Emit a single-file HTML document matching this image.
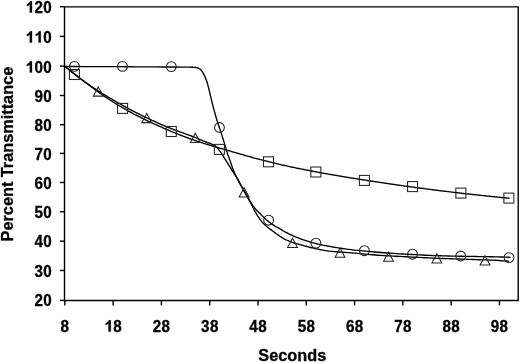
<!DOCTYPE html>
<html><head><meta charset="utf-8"><style>
html,body{margin:0;padding:0;background:#fff;}
svg{display:block;will-change:transform;}
text{font-family:"Liberation Sans",sans-serif;font-weight:bold;font-size:16px;fill:#000;stroke:#000;stroke-width:0.3px;}
path.one{stroke:#000;stroke-width:0.3px;vector-effect:non-scaling-stroke;}
text.t{font-size:16.3px;}
</style></head><body>
<svg width="520" height="363" viewBox="0 0 520 363">
<rect width="520" height="363" fill="#fff"/>
<path d="M64.5,6.9 H518.2 V300.5 H64.5 Z" fill="none" stroke="#000" stroke-width="1.4"/>
<line x1="59.9" y1="6.7" x2="64.5" y2="6.7" stroke="#000" stroke-width="1.4"/>
<path class="one" transform="translate(25.50,12.57) scale(0.007812,-0.007969)" d="M830,0 L549,0 L549,1018 Q395,879 186,813 L186,1058 Q296,1093 425,1189 Q554,1286 602,1409 L830,1409 Z"/><text text-anchor="middle" transform="translate(38.75,12.57) scale(0.95,1.02)">2</text><text text-anchor="middle" transform="translate(47.55,12.57) scale(0.95,1.02)">0</text>
<line x1="59.9" y1="36.4" x2="64.5" y2="36.4" stroke="#000" stroke-width="1.4"/>
<path class="one" transform="translate(25.50,42.60) scale(0.007812,-0.007969)" d="M830,0 L549,0 L549,1018 Q395,879 186,813 L186,1058 Q296,1093 425,1189 Q554,1286 602,1409 L830,1409 Z"/><path class="one" transform="translate(34.30,42.60) scale(0.007812,-0.007969)" d="M830,0 L549,0 L549,1018 Q395,879 186,813 L186,1058 Q296,1093 425,1189 Q554,1286 602,1409 L830,1409 Z"/><text text-anchor="middle" transform="translate(47.55,42.60) scale(0.95,1.02)">0</text>
<line x1="59.9" y1="66.1" x2="64.5" y2="66.1" stroke="#000" stroke-width="1.4"/>
<path class="one" transform="translate(25.50,72.60) scale(0.007812,-0.007969)" d="M830,0 L549,0 L549,1018 Q395,879 186,813 L186,1058 Q296,1093 425,1189 Q554,1286 602,1409 L830,1409 Z"/><text text-anchor="middle" transform="translate(38.75,72.60) scale(0.95,1.02)">0</text><text text-anchor="middle" transform="translate(47.55,72.60) scale(0.95,1.02)">0</text>
<line x1="59.9" y1="95.5" x2="64.5" y2="95.5" stroke="#000" stroke-width="1.4"/>
<text text-anchor="middle" transform="translate(38.75,101.55) scale(0.95,1.02)">9</text><text text-anchor="middle" transform="translate(47.55,101.55) scale(0.95,1.02)">0</text>
<line x1="59.9" y1="124.7" x2="64.5" y2="124.7" stroke="#000" stroke-width="1.4"/>
<text text-anchor="middle" transform="translate(38.75,130.60) scale(0.95,1.02)">8</text><text text-anchor="middle" transform="translate(47.55,130.60) scale(0.95,1.02)">0</text>
<line x1="59.9" y1="153.4" x2="64.5" y2="153.4" stroke="#000" stroke-width="1.4"/>
<text text-anchor="middle" transform="translate(38.75,159.55) scale(0.95,1.02)">7</text><text text-anchor="middle" transform="translate(47.55,159.55) scale(0.95,1.02)">0</text>
<line x1="59.9" y1="182.5" x2="64.5" y2="182.5" stroke="#000" stroke-width="1.4"/>
<text text-anchor="middle" transform="translate(38.75,188.60) scale(0.95,1.02)">6</text><text text-anchor="middle" transform="translate(47.55,188.60) scale(0.95,1.02)">0</text>
<line x1="59.9" y1="211.7" x2="64.5" y2="211.7" stroke="#000" stroke-width="1.4"/>
<text text-anchor="middle" transform="translate(38.75,218.00) scale(0.95,1.02)">5</text><text text-anchor="middle" transform="translate(47.55,218.00) scale(0.95,1.02)">0</text>
<line x1="59.9" y1="241.2" x2="64.5" y2="241.2" stroke="#000" stroke-width="1.4"/>
<text text-anchor="middle" transform="translate(38.75,247.00) scale(0.95,1.02)">4</text><text text-anchor="middle" transform="translate(47.55,247.00) scale(0.95,1.02)">0</text>
<line x1="59.9" y1="270.5" x2="64.5" y2="270.5" stroke="#000" stroke-width="1.4"/>
<text text-anchor="middle" transform="translate(38.75,276.50) scale(0.95,1.02)">3</text><text text-anchor="middle" transform="translate(47.55,276.50) scale(0.95,1.02)">0</text>
<line x1="59.9" y1="300.4" x2="64.5" y2="300.4" stroke="#000" stroke-width="1.4"/>
<text text-anchor="middle" transform="translate(38.75,306.05) scale(0.95,1.02)">2</text><text text-anchor="middle" transform="translate(47.55,306.05) scale(0.95,1.02)">0</text>
<line x1="64.84" y1="300.5" x2="64.84" y2="305.4" stroke="#000" stroke-width="1.4"/>
<text text-anchor="middle" transform="translate(64.84,331.60) scale(0.95,1.02)">8</text>
<line x1="113.13" y1="300.5" x2="113.13" y2="305.4" stroke="#000" stroke-width="1.4"/>
<path class="one" transform="translate(104.28,331.60) scale(0.007812,-0.007969)" d="M830,0 L549,0 L549,1018 Q395,879 186,813 L186,1058 Q296,1093 425,1189 Q554,1286 602,1409 L830,1409 Z"/><text text-anchor="middle" transform="translate(117.53,331.60) scale(0.95,1.02)">8</text>
<line x1="161.42" y1="300.5" x2="161.42" y2="305.4" stroke="#000" stroke-width="1.4"/>
<text text-anchor="middle" transform="translate(157.02,331.60) scale(0.95,1.02)">2</text><text text-anchor="middle" transform="translate(165.82,331.60) scale(0.95,1.02)">8</text>
<line x1="209.70" y1="300.5" x2="209.70" y2="305.4" stroke="#000" stroke-width="1.4"/>
<text text-anchor="middle" transform="translate(205.30,331.60) scale(0.95,1.02)">3</text><text text-anchor="middle" transform="translate(214.10,331.60) scale(0.95,1.02)">8</text>
<line x1="257.99" y1="300.5" x2="257.99" y2="305.4" stroke="#000" stroke-width="1.4"/>
<text text-anchor="middle" transform="translate(253.59,331.60) scale(0.95,1.02)">4</text><text text-anchor="middle" transform="translate(262.39,331.60) scale(0.95,1.02)">8</text>
<line x1="306.28" y1="300.5" x2="306.28" y2="305.4" stroke="#000" stroke-width="1.4"/>
<text text-anchor="middle" transform="translate(301.88,331.60) scale(0.95,1.02)">5</text><text text-anchor="middle" transform="translate(310.68,331.60) scale(0.95,1.02)">8</text>
<line x1="354.57" y1="300.5" x2="354.57" y2="305.4" stroke="#000" stroke-width="1.4"/>
<text text-anchor="middle" transform="translate(350.17,331.60) scale(0.95,1.02)">6</text><text text-anchor="middle" transform="translate(358.97,331.60) scale(0.95,1.02)">8</text>
<line x1="402.86" y1="300.5" x2="402.86" y2="305.4" stroke="#000" stroke-width="1.4"/>
<text text-anchor="middle" transform="translate(398.46,331.60) scale(0.95,1.02)">7</text><text text-anchor="middle" transform="translate(407.26,331.60) scale(0.95,1.02)">8</text>
<line x1="451.14" y1="300.5" x2="451.14" y2="305.4" stroke="#000" stroke-width="1.4"/>
<text text-anchor="middle" transform="translate(446.74,331.60) scale(0.95,1.02)">8</text><text text-anchor="middle" transform="translate(455.54,331.60) scale(0.95,1.02)">8</text>
<line x1="499.43" y1="300.5" x2="499.43" y2="305.4" stroke="#000" stroke-width="1.4"/>
<text text-anchor="middle" transform="translate(495.03,331.60) scale(0.95,1.02)">9</text><text text-anchor="middle" transform="translate(503.83,331.60) scale(0.95,1.02)">8</text>
<text class="t" x="292.3" y="360.5" text-anchor="middle">Seconds</text>
<text class="t" transform="translate(13.4,154.1) rotate(-90)" text-anchor="middle">Percent Transmittance</text>
<path d="M64.50,66.17 L65.50,66.95 L66.50,67.74 L67.50,68.53 L68.50,69.31 L69.50,70.10 L70.50,70.89 L71.50,71.67 L72.50,72.46 L73.50,73.24 L74.50,74.03 L75.50,74.81 L76.50,75.59 L77.50,76.37 L78.50,77.15 L79.50,77.92 L80.50,78.70 L81.50,79.47 L82.50,80.24 L83.50,81.01 L84.50,81.78 L85.50,82.54 L86.50,83.30 L87.50,84.06 L88.50,84.81 L89.50,85.56 L90.50,86.31 L91.50,87.05 L92.50,87.79 L93.50,88.53 L94.50,89.26 L95.50,89.99 L96.50,90.72 L97.50,91.44 L98.50,92.16 L99.50,92.87 L100.50,93.57 L101.50,94.28 L102.50,94.97 L103.50,95.66 L104.50,96.35 L105.50,97.03 L106.50,97.71 L107.50,98.38 L108.50,99.04 L109.50,99.70 L110.50,100.35 L111.50,100.99 L112.50,101.63 L113.50,102.26 L114.50,102.89 L115.50,103.51 L116.50,104.13 L117.50,104.74 L118.50,105.34 L119.50,105.94 L120.50,106.53 L121.50,107.12 L122.50,107.70 L123.50,108.28 L124.50,108.85 L125.50,109.41 L126.50,109.98 L127.50,110.53 L128.50,111.09 L129.50,111.63 L130.50,112.18 L131.50,112.71 L132.50,113.25 L133.50,113.78 L134.50,114.30 L135.50,114.82 L136.50,115.34 L137.50,115.85 L138.50,116.36 L139.50,116.87 L140.50,117.37 L141.50,117.87 L142.50,118.36 L143.50,118.85 L144.50,119.34 L145.50,119.82 L146.50,120.30 L147.50,120.78 L148.50,121.26 L149.50,121.73 L150.50,122.20 L151.50,122.66 L152.50,123.13 L153.50,123.59 L154.50,124.05 L155.50,124.50 L156.50,124.96 L157.50,125.41 L158.50,125.86 L159.50,126.30 L160.50,126.75 L161.50,127.19 L162.50,127.63 L163.50,128.07 L164.50,128.51 L165.50,128.94 L166.50,129.37 L167.50,129.80 L168.50,130.23 L169.50,130.66 L170.50,131.08 L171.50,131.50 L172.50,131.92 L173.50,132.33 L174.50,132.74 L175.50,133.15 L176.50,133.56 L177.50,133.96 L178.50,134.36 L179.50,134.76 L180.50,135.15 L181.50,135.55 L182.50,135.93 L183.50,136.32 L184.50,136.70 L185.50,137.08 L186.50,137.45 L187.50,137.82 L188.50,138.19 L189.50,138.56 L190.50,138.92 L191.50,139.27 L192.50,139.63 L193.50,139.98 L194.50,140.32 L195.50,140.66 L196.50,141.00 L197.50,141.33 L198.50,141.66 L199.50,141.99 L200.50,142.31 L201.50,142.63 L202.50,142.95 L203.50,143.27 L204.50,143.58 L205.50,143.89 L206.50,144.19 L207.50,144.50 L208.50,144.80 L209.50,145.10 L210.50,145.40 L211.50,145.70 L212.50,145.99 L213.50,146.29 L214.50,146.58 L215.50,146.87 L216.50,147.16 L217.50,147.45 L218.50,147.74 L219.50,148.03 L220.50,148.32 L221.50,148.61 L222.50,148.89 L223.50,149.18 L224.50,149.47 L225.50,149.76 L226.50,150.05 L227.50,150.34 L228.50,150.63 L229.50,150.92 L230.50,151.21 L231.50,151.50 L232.50,151.79 L233.50,152.08 L234.50,152.37 L235.50,152.66 L236.50,152.95 L237.50,153.24 L238.50,153.53 L239.50,153.82 L240.50,154.11 L241.50,154.40 L242.50,154.68 L243.50,154.97 L244.50,155.26 L245.50,155.54 L246.50,155.82 L247.50,156.11 L248.50,156.39 L249.50,156.67 L250.50,156.95 L251.50,157.23 L252.50,157.50 L253.50,157.78 L254.50,158.05 L255.50,158.33 L256.50,158.60 L257.50,158.87 L258.50,159.14 L259.50,159.40 L260.50,159.67 L261.50,159.93 L262.50,160.19 L263.50,160.45 L264.50,160.70 L265.50,160.96 L266.50,161.21 L267.50,161.46 L268.50,161.71 L269.50,161.96 L270.50,162.21 L271.50,162.45 L272.50,162.70 L273.50,162.94 L274.50,163.18 L275.50,163.41 L276.50,163.65 L277.50,163.89 L278.50,164.12 L279.50,164.35 L280.50,164.58 L281.50,164.81 L282.50,165.04 L283.50,165.26 L284.50,165.49 L285.50,165.71 L286.50,165.93 L287.50,166.15 L288.50,166.37 L289.50,166.58 L290.50,166.80 L291.50,167.01 L292.50,167.23 L293.50,167.44 L294.50,167.65 L295.50,167.86 L296.50,168.06 L297.50,168.27 L298.50,168.48 L299.50,168.68 L300.50,168.88 L301.50,169.08 L302.50,169.28 L303.50,169.48 L304.50,169.68 L305.50,169.88 L306.50,170.07 L307.50,170.27 L308.50,170.46 L309.50,170.65 L310.50,170.84 L311.50,171.03 L312.50,171.22 L313.50,171.41 L314.50,171.60 L315.50,171.78 L316.50,171.97 L317.50,172.15 L318.50,172.34 L319.50,172.52 L320.50,172.70 L321.50,172.88 L322.50,173.06 L323.50,173.24 L324.50,173.42 L325.50,173.59 L326.50,173.77 L327.50,173.95 L328.50,174.12 L329.50,174.30 L330.50,174.47 L331.50,174.64 L332.50,174.81 L333.50,174.98 L334.50,175.16 L335.50,175.33 L336.50,175.49 L337.50,175.66 L338.50,175.83 L339.50,176.00 L340.50,176.17 L341.50,176.33 L342.50,176.50 L343.50,176.66 L344.50,176.83 L345.50,176.99 L346.50,177.16 L347.50,177.32 L348.50,177.48 L349.50,177.65 L350.50,177.81 L351.50,177.97 L352.50,178.13 L353.50,178.29 L354.50,178.45 L355.50,178.61 L356.50,178.77 L357.50,178.93 L358.50,179.09 L359.50,179.25 L360.50,179.41 L361.50,179.56 L362.50,179.72 L363.50,179.88 L364.50,180.04 L365.50,180.19 L366.50,180.35 L367.50,180.50 L368.50,180.66 L369.50,180.81 L370.50,180.97 L371.50,181.12 L372.50,181.27 L373.50,181.43 L374.50,181.58 L375.50,181.73 L376.50,181.88 L377.50,182.03 L378.50,182.18 L379.50,182.33 L380.50,182.48 L381.50,182.63 L382.50,182.78 L383.50,182.93 L384.50,183.08 L385.50,183.23 L386.50,183.37 L387.50,183.52 L388.50,183.67 L389.50,183.81 L390.50,183.96 L391.50,184.11 L392.50,184.25 L393.50,184.40 L394.50,184.54 L395.50,184.68 L396.50,184.83 L397.50,184.97 L398.50,185.11 L399.50,185.25 L400.50,185.40 L401.50,185.54 L402.50,185.68 L403.50,185.82 L404.50,185.96 L405.50,186.10 L406.50,186.24 L407.50,186.38 L408.50,186.51 L409.50,186.65 L410.50,186.79 L411.50,186.93 L412.50,187.06 L413.50,187.20 L414.50,187.34 L415.50,187.47 L416.50,187.61 L417.50,187.74 L418.50,187.87 L419.50,188.01 L420.50,188.14 L421.50,188.27 L422.50,188.41 L423.50,188.54 L424.50,188.67 L425.50,188.80 L426.50,188.93 L427.50,189.06 L428.50,189.19 L429.50,189.32 L430.50,189.45 L431.50,189.58 L432.50,189.71 L433.50,189.83 L434.50,189.96 L435.50,190.09 L436.50,190.21 L437.50,190.34 L438.50,190.47 L439.50,190.59 L440.50,190.72 L441.50,190.84 L442.50,190.96 L443.50,191.09 L444.50,191.21 L445.50,191.33 L446.50,191.45 L447.50,191.58 L448.50,191.70 L449.50,191.82 L450.50,191.94 L451.50,192.06 L452.50,192.18 L453.50,192.30 L454.50,192.41 L455.50,192.53 L456.50,192.65 L457.50,192.77 L458.50,192.88 L459.50,193.00 L460.50,193.12 L461.50,193.23 L462.50,193.35 L463.50,193.46 L464.50,193.57 L465.50,193.69 L466.50,193.80 L467.50,193.91 L468.50,194.03 L469.50,194.14 L470.50,194.25 L471.50,194.36 L472.50,194.47 L473.50,194.58 L474.50,194.69 L475.50,194.80 L476.50,194.91 L477.50,195.02 L478.50,195.12 L479.50,195.23 L480.50,195.34 L481.50,195.44 L482.50,195.55 L483.50,195.66 L484.50,195.76 L485.50,195.87 L486.50,195.97 L487.50,196.07 L488.50,196.18 L489.50,196.28 L490.50,196.38 L491.50,196.48 L492.50,196.59 L493.50,196.69 L494.50,196.79 L495.50,196.89 L496.50,196.99 L497.50,197.09 L498.50,197.18 L499.50,197.28 L500.50,197.38 L501.50,197.48 L502.50,197.58 L503.50,197.67 L504.50,197.77 L505.50,197.86 L506.50,197.96 L507.50,198.05 L508.50,198.15 L509.50,198.24" fill="none" stroke="#000" stroke-width="1.35" stroke-linejoin="round"/>
<path d="M64.50,65.88 L65.58,66.79 L66.66,67.69 L67.75,68.60 L68.83,69.51 L69.91,70.40 L71.00,71.29 L72.08,72.16 L73.16,73.02 L74.24,73.87 L75.33,74.72 L76.41,75.56 L77.50,76.39 L78.58,77.21 L79.66,78.02 L80.74,78.83 L81.83,79.62 L82.91,80.42 L84.00,81.21 L85.08,81.98 L86.16,82.75 L87.24,83.51 L88.33,84.27 L89.41,85.02 L90.50,85.76 L91.58,86.50 L92.66,87.23 L93.74,87.95 L94.83,88.67 L95.91,89.38 L97.00,90.09 L98.08,90.79 L99.16,91.48 L100.24,92.17 L101.33,92.86 L102.41,93.54 L103.50,94.21 L104.58,94.88 L105.66,95.54 L106.75,96.20 L107.83,96.86 L108.91,97.51 L110.00,98.15 L111.08,98.79 L112.16,99.43 L113.25,100.06 L114.33,100.69 L115.41,101.32 L116.50,101.94 L117.58,102.56 L118.66,103.17 L119.75,103.78 L120.83,104.39 L121.91,104.99 L123.00,105.60 L124.08,106.19 L125.16,106.79 L126.25,107.38 L127.33,107.97 L128.41,108.55 L129.50,109.13 L130.58,109.71 L131.66,110.28 L132.75,110.86 L133.83,111.42 L134.91,111.99 L136.00,112.55 L137.08,113.10 L138.16,113.65 L139.25,114.20 L140.33,114.75 L141.41,115.29 L142.50,115.83 L143.58,116.36 L144.66,116.89 L145.75,117.42 L146.83,117.94 L147.91,118.46 L149.00,118.97 L150.08,119.48 L151.16,119.98 L152.25,120.49 L153.33,120.98 L154.41,121.48 L155.50,121.97 L156.58,122.45 L157.66,122.93 L158.75,123.41 L159.83,123.88 L160.91,124.35 L162.00,124.81 L163.08,125.27 L164.16,125.72 L165.25,126.17 L166.33,126.62 L167.41,127.06 L168.50,127.50 L169.58,127.93 L170.66,128.35 L171.75,128.78 L172.83,129.19 L173.92,129.61 L175.00,130.02 L176.08,130.43 L177.17,130.84 L178.25,131.24 L179.33,131.64 L180.42,132.04 L181.50,132.43 L182.58,132.83 L183.67,133.23 L184.75,133.62 L185.83,134.01 L186.92,134.41 L188.00,134.80 L189.09,135.20 L190.19,135.60 L191.29,136.00 L192.38,136.40 L193.45,136.80 L194.50,137.20 L195.44,137.58 L196.36,137.96 L197.26,138.34 L198.16,138.73 L199.07,139.11 L200.00,139.50 L201.00,139.91 L202.01,140.33 L203.03,140.76 L204.06,141.18 L205.08,141.59 L206.10,142.00 L207.13,142.40 L208.20,142.80 L209.27,143.20 L210.30,143.58 L211.25,143.95 L212.10,144.30 L212.58,144.50 L213.02,144.68 L213.42,144.85 L213.81,145.04 L214.20,145.25 L214.60,145.50 L215.11,145.88 L215.62,146.31 L216.13,146.79 L216.64,147.29 L217.13,147.80 L217.60,148.30 L218.04,148.79 L218.47,149.30 L218.89,149.81 L219.30,150.33 L219.70,150.86 L220.10,151.40 L220.51,151.96 L220.92,152.53 L221.32,153.12 L221.71,153.70 L222.11,154.30 L222.50,154.90 L222.91,155.53 L223.31,156.18 L223.71,156.83 L224.10,157.49 L224.50,158.15 L224.90,158.80 L225.30,159.45 L225.70,160.11 L226.11,160.76 L226.51,161.42 L226.91,162.06 L227.30,162.70 L227.67,163.29 L228.03,163.87 L228.39,164.45 L228.76,165.02 L229.12,165.60 L229.50,166.20 L229.92,166.86 L230.34,167.54 L230.78,168.22 L231.21,168.91 L231.65,169.60 L232.10,170.30 L232.57,171.03 L233.06,171.77 L233.54,172.51 L234.03,173.26 L234.52,174.02 L235.00,174.80 L235.50,175.63 L236.00,176.48 L236.50,177.34 L236.99,178.21 L237.49,179.10 L238.00,180.00 L238.56,181.02 L239.13,182.07 L239.70,183.14 L240.27,184.22 L240.84,185.27 L241.40,186.30 L241.92,187.23 L242.44,188.13 L242.96,189.03 L243.48,189.92 L243.99,190.81 L244.50,191.70 L244.99,192.59 L245.48,193.49 L245.97,194.38 L246.45,195.27 L246.93,196.15 L247.40,197.00 L247.83,197.75 L248.24,198.48 L248.66,199.20 L249.07,199.92 L249.48,200.65 L249.90,201.40 L250.35,202.24 L250.81,203.10 L251.26,203.98 L251.71,204.86 L252.16,205.74 L252.60,206.60 L253.01,207.41 L253.41,208.23 L253.80,209.04 L254.19,209.84 L254.59,210.63 L255.00,211.40 L255.40,212.12 L255.81,212.83 L256.22,213.53 L256.64,214.23 L257.07,214.91 L257.50,215.60 L257.94,216.28 L258.38,216.97 L258.83,217.65 L259.28,218.32 L259.74,218.97 L260.20,219.60 L260.61,220.14 L261.02,220.66 L261.43,221.16 L261.85,221.66 L262.30,222.17 L262.80,222.70 L263.51,223.43 L264.28,224.20 L265.11,224.99 L265.96,225.78 L266.83,226.56 L267.70,227.30 L268.59,228.02 L269.51,228.72 L270.44,229.41 L271.37,230.08 L272.30,230.74 L273.20,231.40 L274.01,232.00 L274.80,232.59 L275.58,233.17 L276.36,233.74 L277.16,234.32 L278.00,234.90 L278.97,235.56 L279.96,236.24 L280.99,236.92 L282.02,237.58 L283.06,238.21 L284.10,238.80 L285.09,239.31 L286.08,239.80 L287.08,240.25 L288.08,240.68 L289.09,241.10 L290.10,241.50 L291.12,241.89 L292.17,242.28 L293.23,242.64 L294.26,242.99 L295.26,243.31 L296.20,243.60 L296.86,243.79 L297.47,243.96 L298.05,244.10 L298.64,244.25 L299.28,244.41 L300.00,244.60 L301.29,244.95 L302.74,245.36 L304.30,245.80 L305.92,246.25 L307.54,246.69 L309.10,247.10 L310.61,247.48 L312.13,247.85 L313.64,248.20 L315.16,248.55 L316.68,248.88 L318.20,249.20 L319.69,249.50 L321.15,249.79 L322.61,250.06 L324.10,250.32 L325.65,250.56 L327.30,250.80 L329.54,251.08 L331.91,251.32 L334.38,251.55 L336.92,251.77 L339.50,251.98 L342.10,252.20 L345.05,252.44 L348.10,252.67 L351.20,252.90 L354.30,253.13 L357.35,253.36 L360.30,253.60 L362.84,253.83 L365.29,254.07 L367.70,254.32 L370.11,254.56 L372.56,254.79 L375.10,255.00 L378.02,255.21 L381.01,255.41 L384.05,255.59 L387.12,255.76 L390.21,255.93 L393.30,256.10 L396.48,256.27 L399.69,256.44 L402.91,256.61 L406.14,256.77 L409.37,256.94 L412.60,257.10 L415.85,257.27 L419.12,257.45 L422.40,257.62 L425.65,257.79 L428.86,257.95 L432.00,258.10 L434.81,258.22 L437.56,258.33 L440.28,258.43 L442.98,258.52 L445.68,258.61 L448.40,258.70 L451.16,258.79 L453.93,258.87 L456.70,258.95 L459.47,259.03 L462.24,259.11 L465.00,259.20 L467.76,259.30 L470.55,259.40 L473.34,259.50 L476.10,259.61 L478.79,259.71 L481.40,259.80 L483.62,259.87 L485.80,259.93 L487.94,259.99 L490.02,260.05 L492.04,260.12 L494.00,260.20 L495.61,260.29 L497.18,260.39 L498.71,260.50 L500.19,260.61 L501.62,260.71 L503.00,260.80 L504.07,260.86 L505.09,260.91 L506.08,260.96 L507.04,261.01 L508.01,261.05 L509.00,261.10" fill="none" stroke="#000" stroke-width="1.35" stroke-linejoin="round"/>
<path d="M64.50,66.50 L73.95,66.53 L83.63,66.56 L93.31,66.59 L102.75,66.63 L111.73,66.66 L120.00,66.70 L125.50,66.73 L130.59,66.76 L135.43,66.80 L140.17,66.83 L144.97,66.87 L150.00,66.90 L156.04,66.93 L162.64,66.96 L169.31,67.00 L175.57,67.03 L180.96,67.06 L185.00,67.10 L186.09,67.11 L186.99,67.13 L187.77,67.14 L188.48,67.15 L189.21,67.17 L190.00,67.20 L190.92,67.23 L191.87,67.25 L192.84,67.28 L193.78,67.33 L194.67,67.40 L195.50,67.50 L196.08,67.59 L196.63,67.70 L197.15,67.81 L197.65,67.95 L198.13,68.11 L198.60,68.30 L199.02,68.51 L199.43,68.75 L199.82,69.00 L200.20,69.28 L200.56,69.58 L200.90,69.90 L201.24,70.25 L201.55,70.63 L201.85,71.02 L202.14,71.44 L202.42,71.86 L202.70,72.30 L203.00,72.79 L203.29,73.31 L203.58,73.84 L203.85,74.38 L204.13,74.93 L204.40,75.50 L204.70,76.13 L204.99,76.78 L205.28,77.45 L205.56,78.12 L205.83,78.81 L206.10,79.50 L206.37,80.24 L206.63,80.99 L206.88,81.75 L207.13,82.52 L207.36,83.30 L207.60,84.10 L207.84,84.96 L208.08,85.81 L208.30,86.68 L208.53,87.58 L208.76,88.51 L209.00,89.50 L209.33,90.86 L209.67,92.32 L210.01,93.84 L210.37,95.40 L210.73,96.96 L211.10,98.50 L211.49,100.08 L211.88,101.68 L212.29,103.29 L212.69,104.89 L213.10,106.46 L213.50,108.00 L213.87,109.39 L214.24,110.76 L214.61,112.12 L214.98,113.45 L215.34,114.74 L215.70,116.00 L216.00,117.05 L216.30,118.07 L216.60,119.07 L216.89,120.05 L217.19,121.02 L217.50,122.00 L217.81,122.96 L218.12,123.91 L218.44,124.86 L218.76,125.81 L219.08,126.75 L219.40,127.70 L219.72,128.65 L220.03,129.59 L220.35,130.54 L220.67,131.49 L220.99,132.44 L221.30,133.40 L221.62,134.39 L221.94,135.39 L222.26,136.40 L222.57,137.40 L222.89,138.40 L223.20,139.40 L223.51,140.38 L223.81,141.36 L224.12,142.34 L224.42,143.31 L224.72,144.27 L225.00,145.20 L225.25,146.03 L225.48,146.84 L225.71,147.64 L225.94,148.43 L226.17,149.22 L226.40,150.00 L226.63,150.74 L226.85,151.48 L227.08,152.20 L227.32,152.93 L227.55,153.66 L227.80,154.40 L228.07,155.19 L228.35,155.98 L228.63,156.77 L228.92,157.57 L229.21,158.38 L229.50,159.20 L229.81,160.09 L230.13,160.99 L230.45,161.90 L230.77,162.82 L231.09,163.72 L231.40,164.60 L231.68,165.40 L231.96,166.19 L232.24,166.96 L232.51,167.74 L232.80,168.51 L233.10,169.30 L233.42,170.13 L233.75,170.95 L234.09,171.78 L234.45,172.62 L234.81,173.45 L235.20,174.30 L235.64,175.22 L236.11,176.13 L236.59,177.06 L237.09,177.99 L237.59,178.94 L238.10,179.90 L238.66,180.99 L239.24,182.12 L239.83,183.27 L240.43,184.41 L241.02,185.53 L241.60,186.60 L242.12,187.52 L242.64,188.42 L243.16,189.30 L243.67,190.16 L244.19,191.03 L244.70,191.90 L245.21,192.78 L245.72,193.66 L246.23,194.54 L246.73,195.41 L247.22,196.27 L247.70,197.10 L248.11,197.82 L248.50,198.52 L248.88,199.21 L249.27,199.89 L249.67,200.59 L250.10,201.30 L250.62,202.13 L251.16,202.99 L251.73,203.86 L252.31,204.73 L252.90,205.58 L253.50,206.40 L254.08,207.16 L254.68,207.91 L255.29,208.65 L255.90,209.36 L256.50,210.05 L257.10,210.70 L257.60,211.22 L258.09,211.70 L258.58,212.16 L259.08,212.62 L259.58,213.09 L260.10,213.60 L260.72,214.25 L261.36,214.94 L262.00,215.64 L262.67,216.37 L263.36,217.09 L264.10,217.80 L265.01,218.62 L265.98,219.46 L266.99,220.29 L268.03,221.12 L269.07,221.92 L270.10,222.70 L271.12,223.44 L272.16,224.18 L273.21,224.90 L274.25,225.58 L275.25,226.22 L276.20,226.80 L276.88,227.19 L277.52,227.52 L278.14,227.83 L278.76,228.14 L279.37,228.45 L280.00,228.80 L280.67,229.21 L281.33,229.63 L281.99,230.07 L282.66,230.52 L283.36,230.96 L284.10,231.40 L285.03,231.91 L286.00,232.41 L287.01,232.92 L288.05,233.42 L289.08,233.91 L290.10,234.40 L291.13,234.89 L292.18,235.39 L293.23,235.88 L294.26,236.36 L295.26,236.80 L296.20,237.20 L296.86,237.47 L297.47,237.70 L298.05,237.91 L298.64,238.12 L299.28,238.35 L300.00,238.60 L301.29,239.06 L302.74,239.57 L304.30,240.12 L305.91,240.67 L307.53,241.21 L309.10,241.70 L310.61,242.14 L312.12,242.57 L313.64,242.97 L315.16,243.36 L316.68,243.74 L318.20,244.10 L319.69,244.44 L321.15,244.77 L322.61,245.08 L324.10,245.38 L325.65,245.69 L327.30,246.00 L329.54,246.42 L331.91,246.84 L334.37,247.27 L336.92,247.70 L339.50,248.11 L342.10,248.50 L345.04,248.91 L348.09,249.31 L351.19,249.69 L354.30,250.05 L357.35,250.39 L360.30,250.70 L362.84,250.95 L365.29,251.18 L367.70,251.39 L370.11,251.59 L372.56,251.79 L375.10,252.00 L378.02,252.24 L381.01,252.48 L384.05,252.72 L387.12,252.96 L390.21,253.19 L393.30,253.40 L396.48,253.60 L399.69,253.80 L402.91,253.98 L406.14,254.15 L409.37,254.33 L412.60,254.50 L415.85,254.68 L419.12,254.86 L422.40,255.04 L425.65,255.21 L428.86,255.36 L432.00,255.50 L434.81,255.61 L437.56,255.70 L440.28,255.79 L442.98,255.86 L445.68,255.93 L448.40,256.00 L451.16,256.06 L453.93,256.12 L456.70,256.16 L459.47,256.21 L462.24,256.25 L465.00,256.30 L467.74,256.35 L470.47,256.40 L473.20,256.45 L475.93,256.50 L478.66,256.55 L481.40,256.60 L484.19,256.65 L487.01,256.69 L489.84,256.74 L492.64,256.79 L495.37,256.84 L498.00,256.90 L500.19,256.96 L502.30,257.02 L504.36,257.09 L506.40,257.16 L508.44,257.23 L510.50,257.30" fill="none" stroke="#000" stroke-width="1.35" stroke-linejoin="round"/>
<g fill="none" stroke="#222" stroke-width="1.05"><circle cx="74.45" cy="66.3" r="4.9"/><circle cx="122.50" cy="66.4" r="4.9"/><circle cx="171.30" cy="66.6" r="4.9"/><circle cx="219.45" cy="127.5" r="4.9"/><circle cx="268.60" cy="220.2" r="4.9"/><circle cx="315.90" cy="243.2" r="4.9"/><circle cx="364.40" cy="250.7" r="4.9"/><circle cx="412.50" cy="254.2" r="4.9"/><circle cx="460.70" cy="256.0" r="4.9"/><circle cx="509.00" cy="257.6" r="4.9"/><rect x="69.40" y="69.50" width="10" height="10"/><rect x="117.60" y="103.40" width="10" height="10"/><rect x="166.30" y="126.50" width="10" height="10"/><rect x="214.40" y="144.40" width="10" height="10"/><rect x="263.50" y="156.80" width="10" height="10"/><rect x="310.85" y="167.00" width="10" height="10"/><rect x="359.40" y="175.40" width="10" height="10"/><rect x="407.55" y="181.60" width="10" height="10"/><rect x="455.85" y="188.10" width="10" height="10"/><rect x="503.85" y="193.10" width="10" height="10"/><path d="M98.30,86.90 L103.20,96.10 L93.40,96.10 Z"/><path d="M146.70,113.40 L151.60,122.60 L141.80,122.60 Z"/><path d="M195.30,133.20 L200.20,142.40 L190.40,142.40 Z"/><path d="M244.10,187.70 L249.00,196.90 L239.20,196.90 Z"/><path d="M292.50,238.30 L297.40,247.50 L287.60,247.50 Z"/><path d="M340.05,248.10 L344.95,257.30 L335.15,257.30 Z"/><path d="M388.50,252.10 L393.40,261.30 L383.60,261.30 Z"/><path d="M436.85,253.70 L441.75,262.90 L431.95,262.90 Z"/><path d="M485.00,255.70 L489.90,264.90 L480.10,264.90 Z"/></g>
</svg>
</body></html>
